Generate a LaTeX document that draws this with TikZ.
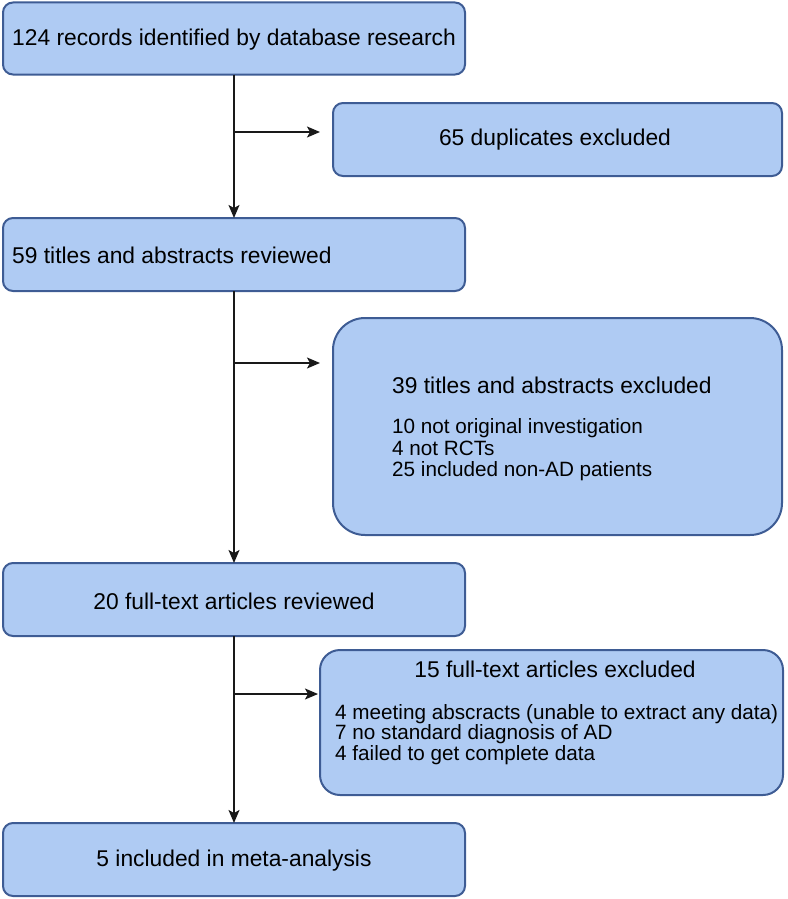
\documentclass[tikz,border=0pt]{standalone}
\usepackage{fontspec}
\setmainfont{Liberation Sans}
\usetikzlibrary{arrows.meta}
\definecolor{boxfill}{RGB}{175,203,243}
\definecolor{boxdraw}{RGB}{62,92,148}
\definecolor{arrowcol}{RGB}{25,25,25}
\begin{document}
\begin{tikzpicture}[x=1pt,y=-1pt,
  box/.style={draw=boxdraw,fill=boxfill,line width=2pt,inner sep=0pt,outer sep=0pt},
  main/.style={box,rounded corners=10pt,minimum width=462pt,minimum height=72pt},
  flowline/.style={draw=arrowcol,line width=1.6pt},
  flowarrow/.style={flowline,-{Stealth[length=13pt,width=11pt,inset=3pt]}},
  txt/.style={font=\fontsize{22.8}{27}\selectfont,inner sep=0pt},
  smalltxt/.style={inner sep=0pt,align=left}
]
\useasboundingbox (0,0) rectangle (787,899);
% boxes
\node[main] (b1) at (234,38.5) {};
\node[txt] (t1) at (234,40) {124 records identified by database research};
\node[box,rounded corners=10pt,minimum width=449pt,minimum height=73pt] (b2) at (557.5,139.5) {};
\node[txt] (t2) at (555,140) {65 duplicates excluded};
\node[main,minimum height=73pt] (b3) at (234,254.5) {};
\node[txt,anchor=west] (t3) at (12,255) {59 titles and abstracts reviewed};
\node[box,rounded corners=32pt,minimum width=449pt,minimum height=217pt] (b4) at (557.5,426.5) {};
\node[txt,anchor=west] (t4) at (392,385) {39 titles and abstracts excluded};
\node[smalltxt,font=\fontsize{20.7}{21.5}\selectfont,anchor=west] (t4a) at (392,450) {10 not original investigation\\4 not RCTs\\25 included non-AD patients};
\node[main,minimum height=73pt] (b5) at (234,599.5) {};
\node[txt] (t5) at (234,601) {20 full-text articles reviewed};
\node[box,rounded corners=20pt,minimum width=463pt,minimum height=145pt] (b6) at (551.5,722.5) {};
\node[txt] (t6) at (555,669) {15 full-text articles excluded};
\node[smalltxt,font=\fontsize{20.7}{18.5}\selectfont,anchor=west] (t6a) at (335,734.5) {4 meeting abscracts (unable to extract any data)\\7 no standard diagnosis of AD\\4 failed to get complete data};
\node[main,minimum height=73pt] (b7) at (234,859.5) {};
\node[txt] (t7) at (234,861) {5 included in meta-analysis};
% connectors
\coordinate (j1) at (234,132);
\coordinate (j2) at (234,363);
\coordinate (j3) at (234,694);
\draw[flowarrow] (b1.south) -- (b3.north);
\draw[flowarrow,shorten >=13pt] (j1) -- (j1 -| b2.west);
\draw[flowarrow] (b3.south) -- (b5.north);
\draw[flowarrow,shorten >=13pt] (j2) -- (j2 -| b4.west);
\draw[flowarrow] (b5.south) -- (b7.north);
\draw[flowarrow,shorten >=2pt] (j3) -- (j3 -| b6.west);
\end{tikzpicture}
\end{document}
